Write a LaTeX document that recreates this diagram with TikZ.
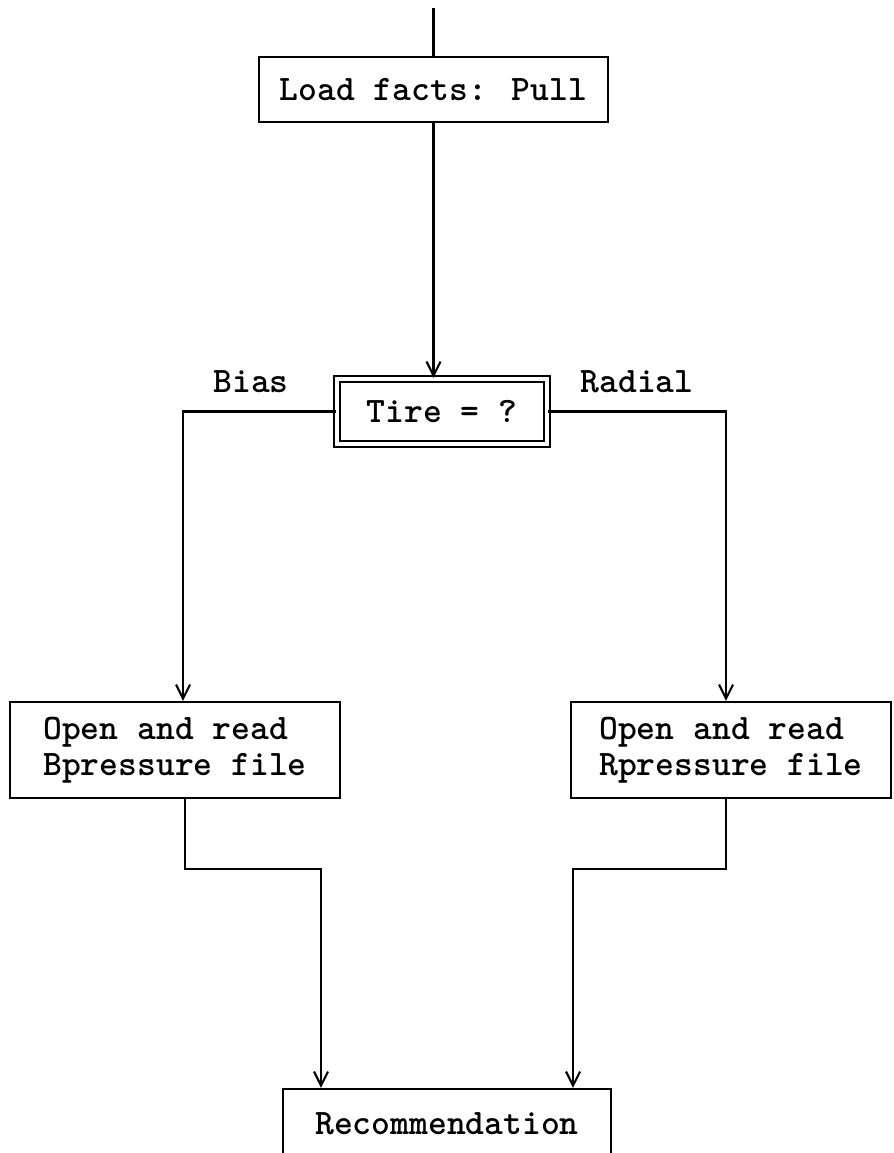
\documentclass[tikz,border=0pt]{standalone}
\usetikzlibrary{arrows.meta, calc}

\begin{document}
\begin{tikzpicture}[x=0.02cm, y=-0.02cm,
		>={Straight Barb[length=8pt,width=8pt]},   %Pfeilspitzen
		font=\ttfamily\bfseries\fontsize{20.4}{20.5}\selectfont, line width=1.2pt,
		box/.style={draw, inner sep=0pt},
		choice/.style={draw, double, double distance=2.5pt, inner sep=0pt}]
		%Bildbereich
		\useasboundingbox (0,0) rectangle (893,1153);
		\clip (0,0) rectangle (893,1153);
		% Knoten
		\coordinate (top) at (433.5,8);
		\node[box, minimum width=6.98cm, minimum height=1.3cm] (load) at (433.5,89.5) {Load facts: Pull};
		\node[choice, minimum width=4.2cm, minimum height=1.3cm] (tire) at (442,411.5) {Tire = ?};
		\node[anchor=base] (bias) at (251,392) {Bias};
		\node[anchor=base] (radial) at (637,392) {Radial};
		\node[box, align=left, minimum width=6.6cm, minimum height=1.92cm] (bopen) at (175,750) {Open and read\\Bpressure file};
		\node[box, align=left, minimum width=6.4cm, minimum height=1.92cm] (ropen) at (731,750) {Open and read\\Rpressure file};
		\node[box, minimum width=6.56cm, minimum height=1.4cm] (rec) at (447,1124) {Recommendation};
		% Verbindungen
		\draw (top) -- (load.north -| top);
		\draw[->] (load.south) -- (load.south |- tire.north);
		\draw[->] (tire.west) -| ($(bopen.north)+(8,0)$);
		\draw[->] (tire.east) -| ($(ropen.north)+(-5,0)$);
		\draw[->] ($(bopen.south)+(10,0)$) -- ++(0,70) -| ($(rec.north)+(-126,0)$);
		\draw[->] ($(ropen.south)+(-5,0)$) -- ++(0,70) -| ($(rec.north)+(126,0)$);
	\end{tikzpicture}
\end{document}
